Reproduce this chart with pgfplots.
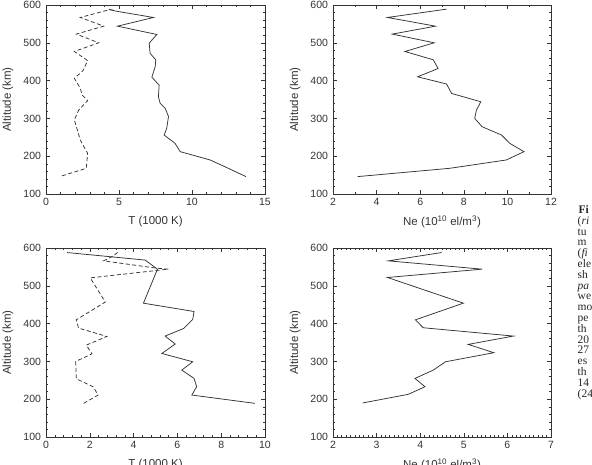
\documentclass[border=0pt]{standalone}
\usepackage{pgfplots}
\pgfplotsset{compat=1.18}
\usepackage{fontspec}
\setmainfont{Liberation Sans}
\newfontfamily\capfont{Liberation Serif}
\definecolor{ink}{gray}{0.2}
\pgfplotsset{
  panel/.style={
    scale only axis,
    anchor=south west,
    ymin=100, ymax=600,
    ytick={100,200,300,400,500,600},
    minor y tick num=4,
    tick align=inside,
    major tick length=4pt,
    minor tick length=2pt,
    every tick/.style={ink, line width=0.5pt},
    axis line style={ink, line width=0.7pt},
    tick label style={font=\fontsize{10.5}{12}\selectfont, text=ink},
    label style={font=\fontsize{11.5}{13}\selectfont, text=ink},
    /pgf/number format/assume math mode=true,
    ylabel={Altitude (km)},
    ylabel style={at={(axis description cs:-0.174,0.5)}, anchor=center},
    xlabel style={at={(axis description cs:0.5,-0.148)}, anchor=center},
    xticklabel style={yshift=-1pt},
    yticklabel style={xshift=-1.5pt},
  },
  solidline/.style={ink, line width=0.75pt, mark=none},
  dashline/.style={ink, line width=0.75pt, mark=none, dash pattern=on 4pt off 2.5pt},
}
\begin{document}
\begin{tikzpicture}[x=1pt,y=1pt]
\path[use as bounding box] (0,0) rectangle (592,465);

% Panel 1: T top
\begin{axis}[panel, at={(46pt,271pt)}, width=219pt, height=189pt,
  xmin=0, xmax=15, xtick={0,5,10,15}, minor x tick num=4,
  xlabel={T (1000 K)}]
\addplot[solidline] table {
x y
13.70 146
12.26 172
11.24 190
9.19 212
8.84 234
8.09 256
8.27 274
8.39 305
8.16 327
7.82 340
7.70 357
7.75 388
7.25 409
7.48 437
7.52 455
7.13 472
7.07 499
7.59 522
4.90 544
7.36 567
4.75 584
4.29 589
};
\addplot[dashline] table {
x y
1.10 148
2.76 168
2.85 208
2.69 218
2.35 243
1.94 296
2.24 322
2.85 347
2.47 362
2.35 380
1.94 406
2.53 426
2.85 453
2.47 463
1.94 477
3.61 500
2.08 523
3.95 544
2.35 567
4.29 587
4.75 586
};
\end{axis}

% Panel 2: Ne top
\begin{axis}[panel, at={(333pt,271pt)}, width=218pt, height=189pt,
  xmin=2, xmax=12, xtick={2,4,6,8,10,12}, minor x tick num=1,
  xlabel={Ne (10\textsuperscript{10} el/m\textsuperscript{3})}]
\addplot[solidline] table {
x y
3.13 146
7.36 168
9.95 190
10.76 212
10.11 234
9.73 256
8.84 278
8.50 300
8.58 322
8.78 344
7.44 366
7.21 391
5.88 410
6.82 432
6.60 455
5.30 477
6.64 500
4.72 523
6.70 544
4.50 567
7.21 589
};
\end{axis}

% Panel 3: T bottom
\begin{axis}[panel, at={(46pt,28pt)}, width=219pt, height=189pt,
  xmin=0, xmax=10, xtick={0,2,4,6,8,10}, minor x tick num=4,
  xlabel={T (1000 K)}]
\addplot[solidline] table {
x y
9.54 189
6.66 211
6.88 233
6.76 255
6.20 277
6.70 299
5.29 321
5.90 346
5.44 367
6.28 387
6.70 411
6.76 432
4.45 454
5.09 544
4.53 568
0.96 588
};
\addplot[dashline] table {
x y
1.72 189
2.38 211
2.15 233
1.38 254
1.36 300
2.10 320
1.84 343
2.78 366
1.49 388
1.38 410
2.71 457
2.02 521
5.59 544
5.00 547
2.63 566
3.01 577
3.27 588
};
\end{axis}

% Panel 4: Ne bottom
\begin{axis}[panel, at={(333pt,28pt)}, width=218pt, height=189pt,
  xmin=2, xmax=7, xtick={2,3,4,5,6,7}, minor x tick num=9,
  xlabel={Ne (10\textsuperscript{10} el/m\textsuperscript{3})}]
\addplot[solidline] table {
x y
2.68 190
3.73 213
4.11 233
3.88 255
4.30 277
4.58 299
5.69 323
5.10 345
6.14 367
4.07 389
3.89 410
4.99 454
3.25 522
5.42 544
3.27 566
4.49 588
};
\end{axis}

% Cut-off caption fragments at the right edge
\begin{scope}[every node/.style={anchor=base west, inner sep=0pt, font=\capfont\fontsize{11.5}{12}\selectfont, text=black!85}]
\node at (578.5,251.5) {\textbf{Fi}};
\node at (577.5,240.7) {(\textit{ri}};
\node at (577.5,229.9) {tu};
\node at (577.5,219.1) {m};
\node at (577.5,208.3) {(\textit{fi}};
\node at (577.5,197.5) {ele};
\node at (577.5,186.7) {sh};
\node at (577.5,175.9) {\textit{pa}};
\node at (577.5,165.1) {we};
\node at (577.5,154.3) {mo};
\node at (577.5,143.5) {pe};
\node at (577.5,132.7) {th};
\node at (577.5,121.9) {20};
\node at (577.5,111.1) {27};
\node at (577.5,100.3) {es};
\node at (577.5,89.5) {th};
\node at (577.5,78.7) {14};
\node at (577.5,67.9) {(24};
\end{scope}
\end{tikzpicture}
\end{document}
